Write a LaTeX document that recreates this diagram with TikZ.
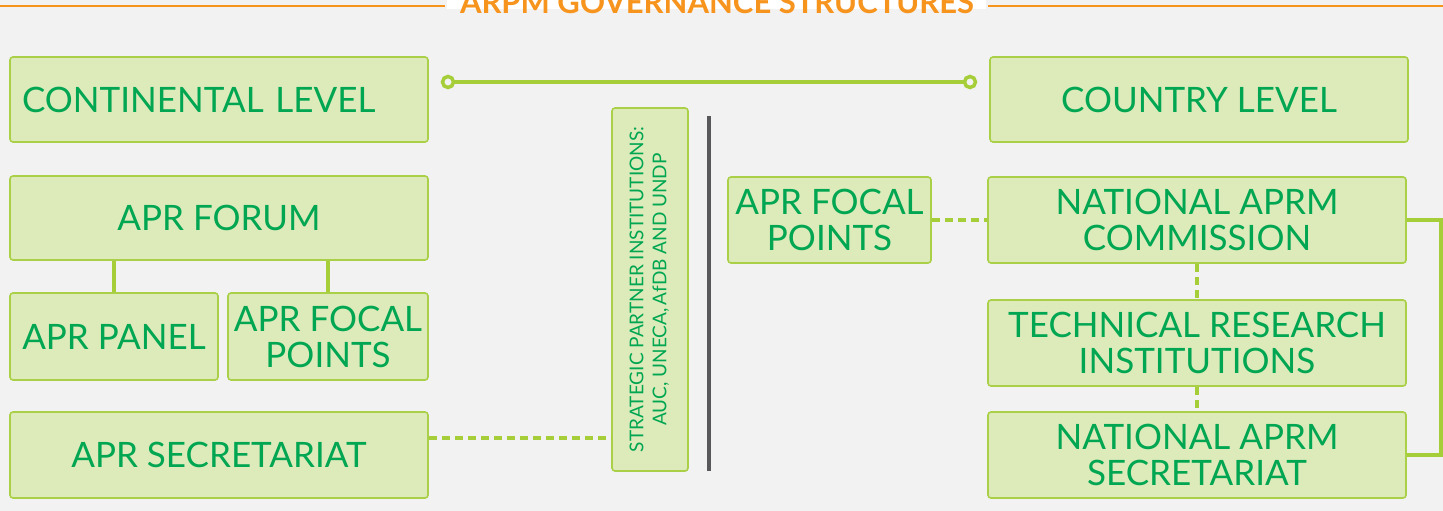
\documentclass[tikz,border=0pt]{standalone}
\usepackage{fontspec}
\setmainfont{Lato}
\definecolor{bg}{HTML}{F2F2F2}
\definecolor{boxfill}{HTML}{DDEAB9}
\definecolor{boxline}{HTML}{A9D047}
\definecolor{txt}{HTML}{00A651}
\definecolor{conn}{HTML}{A6CE39}
\definecolor{orng}{HTML}{F7941D}
\definecolor{darkline}{HTML}{58585A}
\begin{document}
\begin{tikzpicture}[x=1pt,y=-1pt,
  gbox/.style={draw=boxline, fill=boxfill, line width=1.6pt, rounded corners=3pt,
    inner sep=0pt, text=txt, align=center,
    font=\fontsize{35}{36}\selectfont},
  solidc/.style={draw=conn, line width=4pt},
  dashc/.style={draw=conn, line width=4pt, dash pattern=on 8pt off 5pt}]
\useasboundingbox (0,0) rectangle (1443,511);
\fill[bg] (0,0) rectangle (1443,511);
% title
\draw[orng, line width=2pt] (0,6) -- (445,6);
\draw[orng, line width=2pt] (988,6) -- (1443,6);
\fill[white] (447,0) rectangle (986,9);
\node[text=orng, font=\fontsize{31}{31}\selectfont\bfseries, anchor=base] (title) at (717,14) {ARPM GOVERNANCE STRUCTURES};
% left column
\node[gbox, minimum width=418, minimum height=85, text width=394, align=left, inner xsep=12pt] (cont) at (219,99.5) {CONTINENTAL LEVEL};
\node[gbox, minimum width=418, minimum height=84] (forum) at (219,218) {APR FORUM};
\node[gbox, minimum width=208, minimum height=87] (panel) at (114,336.5) {APR PANEL};
\node[gbox, minimum width=200, minimum height=87] (lfocal) at (328,336.5) {APR FOCAL\\POINTS};
\node[gbox, minimum width=418, minimum height=86] (lsec) at (219,455) {APR SECRETARIAT};
% middle
\node[gbox, minimum width=76, minimum height=363, font=\fontsize{19}{24}\selectfont] (strat) at (650,289.5)
  {\rotatebox{90}{\begin{tabular}{@{}c@{}}STRATEGIC PARTNER INSTITUTIONS:\\[-1pt]AUC, UNECA,\,AfDB AND UNDP\end{tabular}}};
\coordinate (gtop) at (709,116);
\coordinate (gbot) at (709,471);
\draw[darkline, line width=3.5pt] (gtop) -- (gbot);
% right column
\node[gbox, minimum width=418, minimum height=85] (country) at (1199,99.5) {COUNTRY LEVEL};
\node[gbox, minimum width=203, minimum height=86] (rfocal) at (829.5,220) {APR FOCAL\\POINTS};
\node[gbox, minimum width=418, minimum height=86] (comm) at (1197,220) {NATIONAL APRM\\COMMISSION};
\node[gbox, minimum width=418, minimum height=86] (tech) at (1197,343) {TECHNICAL RESEARCH\\INSTITUTIONS};
\node[gbox, minimum width=418, minimum height=86] (nsec) at (1197,455) {NATIONAL APRM\\SECRETARIAT};
% connectors
\coordinate (c1) at (448,82);
\coordinate (c2) at (970,82);
\draw[solidc] (c1) -- (c2);
\draw[conn, line width=3.5pt, fill=bg] (c1) circle (5.5);
\draw[conn, line width=3.5pt, fill=bg] (c2) circle (5.5);
\draw[solidc] (forum.south -| panel.north) -- (panel.north);
\draw[solidc] (forum.south -| lfocal.north) -- (lfocal.north);
\draw[dashc] (lsec.east |- 0,438) -- (strat.west |- 0,438);
\draw[dashc] (rfocal.east) -- (comm.west |- rfocal.east);
\draw[dashc] (comm.south) -- (tech.north);
\draw[dashc] (tech.south) -- (nsec.north);
\draw[conn, line width=3.5pt] (comm.east) -- ++(34,0) |- (nsec.east);
\end{tikzpicture}
\end{document}
